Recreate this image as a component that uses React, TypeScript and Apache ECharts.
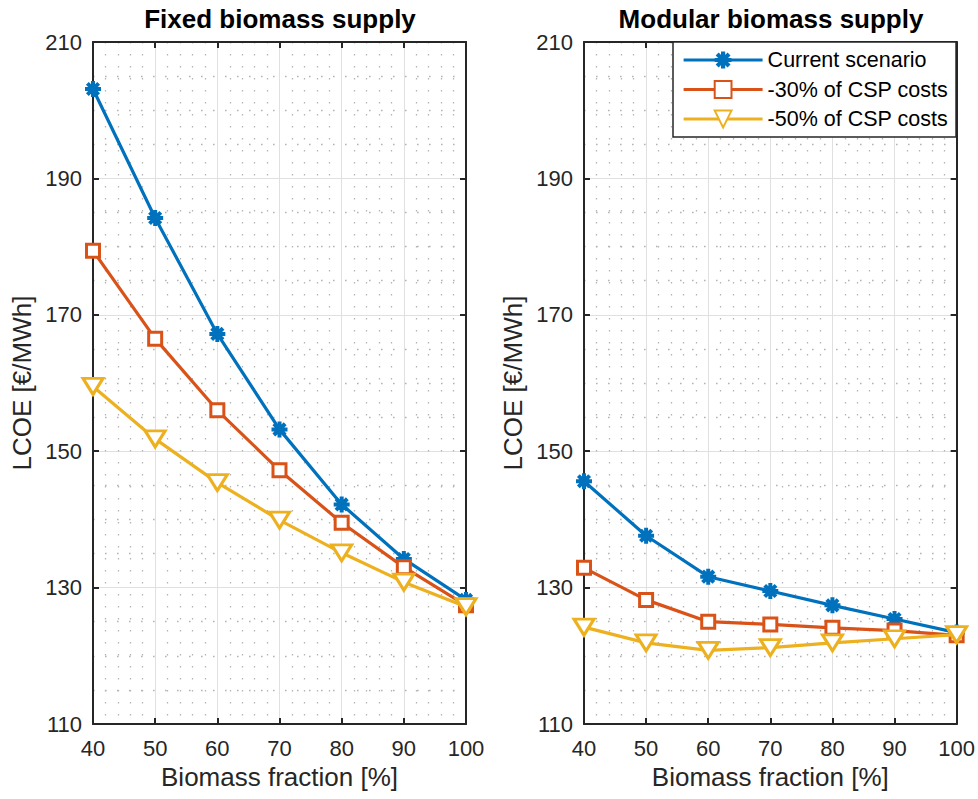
import React, { useEffect, useRef } from "react";
import * as echarts from "echarts";

const xValues = [40, 50, 60, 70, 80, 90, 100];
const seriesNames = ["Current scenario", "-30% of CSP costs", "-50% of CSP costs"];
const fixedCurrent = [203.1, 184.2, 167.2, 153.2, 142.2, 134.2, 128.2];
const fixedMinus30 = [179.4, 166.5, 156.0, 147.2, 139.5, 133.0, 127.4];
const fixedMinus50 = [159.5, 151.8, 145.4, 139.9, 135.1, 130.8, 127.2];
const modCurrent = [145.6, 137.6, 131.6, 129.5, 127.4, 125.4, 123.4];
const modMinus30 = [132.9, 128.2, 125.0, 124.6, 124.1, 123.7, 123.0];
const modMinus50 = [124.2, 121.9, 120.8, 121.2, 121.9, 122.5, 123.1];
const yTicks = { min: 110, max: 210, interval: 20 };
const xTicks = { min: 40, max: 100, interval: 10 };
const titles = ["Fixed biomass supply", "Modular biomass supply"];

const FONT = "'Liberation Sans', Arial, sans-serif";
const BLUE = "#0072BD";
const ORANGE = "#D95319";
const YELLOW = "#EDB120";
const AXIS = "#262626";

const ASTERISK =
  "path://M-1.5,-6L1.5,-6L1.5,6L-1.5,6Z M-6,-1.5L6,-1.5L6,1.5L-6,1.5Z M-3.18,-5.30L5.30,3.18L3.18,5.30L-5.30,-3.18Z M3.18,-5.30L5.30,-3.18L-3.18,5.30L-5.30,3.18Z";
const TRI_DOWN = "path://M0,0L20,0L10,17Z";

export default function App() {
  const ref = useRef<HTMLDivElement>(null);
  useEffect(() => {
    document.body.style.margin = "0";
    if (!ref.current) return;
    const chart = echarts.init(ref.current, undefined, { renderer: "svg" });
    const grids = [
      { left: 93, right: 512, top: 42, bottom: 75 },
      { left: 584, right: 20, top: 42, bottom: 75 },
    ];
    const minorLine = { show: true, lineStyle: { color: "#b4b4b4", width: 1.3, type: [1.6, 10.4] } };
    const xAxis: any[] = [];
    const yAxis: any[] = [];
    grids.forEach((_, gi) => {
      xAxis.push({
        type: "value",
        gridIndex: gi,
        position: "bottom",
        min: xTicks.min,
        max: xTicks.max,
        interval: xTicks.interval,
        name: "Biomass fraction [%]",
        nameLocation: "middle",
        nameGap: 40,
        nameTextStyle: { fontSize: 26, color: AXIS, fontFamily: FONT },
        axisLine: { show: true, onZero: false, lineStyle: { color: AXIS, width: 2 } },
        axisTick: { show: true, inside: true, length: 6, lineStyle: { color: AXIS, width: 2 } },
        axisLabel: { fontSize: 22, color: AXIS, fontFamily: FONT, margin: 13 },
        splitLine: { show: true, lineStyle: { color: "#e0e0e0", width: 1 } },
        minorTick: { show: false, splitNumber: 5 },
        minorSplitLine: minorLine,
      });
      xAxis.push({
        type: "value",
        gridIndex: gi,
        position: "top",
        min: xTicks.min,
        max: xTicks.max,
        interval: xTicks.interval,
        axisLine: { show: true, onZero: false, lineStyle: { color: AXIS, width: 2 } },
        axisTick: { show: true, inside: true, length: 6, lineStyle: { color: AXIS, width: 2 } },
        axisLabel: { show: false },
        splitLine: { show: false },
      });
      yAxis.push({
        type: "value",
        gridIndex: gi,
        position: "left",
        min: yTicks.min,
        max: yTicks.max,
        interval: yTicks.interval,
        name: "LCOE [€/MWh]",
        nameLocation: "middle",
        nameGap: 58,
        nameTextStyle: { fontSize: 26, color: AXIS, fontFamily: FONT },
        axisLine: { show: true, onZero: false, lineStyle: { color: AXIS, width: 2 } },
        axisTick: { show: true, inside: true, length: 6, lineStyle: { color: AXIS, width: 2 } },
        axisLabel: { fontSize: 22, color: AXIS, fontFamily: FONT, margin: 11 },
        splitLine: { show: true, lineStyle: { color: "#e0e0e0", width: 1 } },
        minorTick: { show: false, splitNumber: 4 },
        minorSplitLine: minorLine,
      });
      yAxis.push({
        type: "value",
        gridIndex: gi,
        position: "right",
        min: yTicks.min,
        max: yTicks.max,
        interval: yTicks.interval,
        axisLine: { show: true, onZero: false, lineStyle: { color: AXIS, width: 2 } },
        axisTick: { show: true, inside: true, length: 6, lineStyle: { color: AXIS, width: 2 } },
        axisLabel: { show: false },
        splitLine: { show: false },
      });
    });

    const toData = (arr: number[]) => arr.map((v, i) => [xValues[i], v]);
    const mk = (name: string, data: number[], gi: number, kind: number) => {
      const color = [BLUE, ORANGE, YELLOW][kind];
      const base: any = {
        type: "line",
        name,
        xAxisIndex: gi * 2,
        yAxisIndex: gi * 2,
        data: toData(data),
        lineStyle: { color, width: 3.2 },
        showAllSymbol: true,
        z: 3 + kind,
      };
      if (kind === 0) {
        base.symbol = ASTERISK;
        base.symbolSize = 16;
        base.itemStyle = { color: BLUE };
      } else if (kind === 1) {
        base.symbol = "rect";
        base.symbolSize = 13;
        base.itemStyle = { color: "#fff", borderColor: ORANGE, borderWidth: 3 };
      } else {
        base.symbol = TRI_DOWN;
        base.symbolSize = [20, 16];
        base.itemStyle = { color: "#fff", borderColor: YELLOW, borderWidth: 3 };
      }
      return base;
    };

    const series = [
      mk(seriesNames[0], fixedCurrent, 0, 0),
      mk(seriesNames[1], fixedMinus30, 0, 1),
      mk(seriesNames[2], fixedMinus50, 0, 2),
      mk(seriesNames[0], modCurrent, 1, 0),
      mk(seriesNames[1], modMinus30, 1, 1),
      mk(seriesNames[2], modMinus50, 1, 2),
    ];

    chart.setOption({
      animation: false,
      backgroundColor: "#fff",
      title: [
        {
          text: titles[0],
          left: 280,
          top: 6,
          textAlign: "center",
          padding: 0,
          textStyle: { fontSize: 26, fontWeight: "bold", color: "#000", fontFamily: FONT },
        },
        {
          text: titles[1],
          left: 771,
          top: 6,
          textAlign: "center",
          padding: 0,
          textStyle: { fontSize: 26, fontWeight: "bold", color: "#000", fontFamily: FONT },
        },
      ],
      legend: {
        data: seriesNames,
        orient: "vertical",
        left: 673,
        top: 42,
        itemWidth: 79,
        itemHeight: 21,
        itemGap: 7.5,
        padding: [7, 8, 7, 9],
        backgroundColor: "#fff",
        borderColor: AXIS,
        borderWidth: 1.5,
        borderRadius: 0,
        lineStyle: { width: 3.2 },
        textStyle: { fontSize: 21.5, color: "#000", fontFamily: FONT },
      },
      grid: grids,
      xAxis,
      yAxis,
      series,
    });
    return () => chart.dispose();
  }, []);
  return <div ref={ref} style={{ width: 978, height: 799 }} />;
}
